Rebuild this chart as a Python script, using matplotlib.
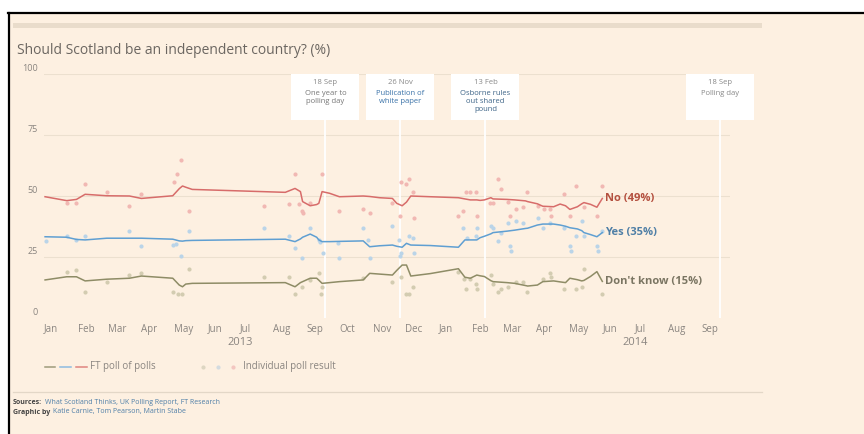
import numpy as np
import pandas as pd
import matplotlib.pyplot as plt
import matplotlib.dates as mdates
from matplotlib.patches import Rectangle
from matplotlib.lines import Line2D

plt.rcParams['font.family'] = ['Open Sans', 'DejaVu Sans']

# FT poll of polls (smoothed series)
pop_dates = ['2013-01-02', '2013-01-22', '2013-01-31', '2013-02-08', '2013-02-28',
             '2013-03-21', '2013-04-01', '2013-04-30', '2013-05-06', '2013-05-09',
             '2013-05-12', '2013-05-18', '2013-08-12', '2013-08-21', '2013-08-26',
             '2013-08-28', '2013-09-04', '2013-09-10', '2013-09-12', '2013-09-15',
             '2013-09-22', '2013-10-01', '2013-10-23', '2013-10-29', '2013-11-07',
             '2013-11-19', '2013-11-23', '2013-11-28', '2013-12-02', '2013-12-06',
             '2013-12-24', '2014-01-19', '2014-01-25', '2014-01-30', '2014-02-05',
             '2014-02-08', '2014-02-12', '2014-02-18', '2014-02-20', '2014-03-05',
             '2014-03-12', '2014-03-22', '2014-03-24', '2014-04-02', '2014-04-07',
             '2014-04-17', '2014-04-23', '2014-04-28', '2014-05-02', '2014-05-09',
             '2014-05-13', '2014-05-15', '2014-05-21', '2014-05-27', '2014-06-01']
no_pop = [49.7, 48.1, 48.6, 50.7, 50.1, 50.0, 49.0, 50.1, 53.0, 54.1,
          53.6, 52.7, 51.5, 53.1, 51.8, 47.7, 46.0, 46.5, 47.0, 51.8,
          51.1, 49.7, 50.0, 49.8, 49.3, 49.0, 47.0, 46.0, 47.5, 50.0,
          49.7, 49.3, 48.8, 48.4, 48.4, 48.2, 48.4, 49.3, 48.8, 48.6,
          48.4, 48.0, 47.7, 46.8, 45.8, 45.6, 46.7, 46.0, 44.5, 45.6,
          46.8, 47.3, 46.6, 45.4, 49.0]
yes_pop = [33.3, 33.1, 32.2, 32.0, 32.7, 32.7, 32.7, 32.3, 31.6, 31.5,
           31.7, 31.8, 32.3, 31.3, 32.4, 33.1, 34.4, 33.1, 32.0, 31.3,
           31.3, 31.4, 31.6, 29.2, 29.6, 29.9, 29.4, 29.0, 30.6, 29.9,
           29.7, 29.0, 32.0, 32.0, 32.0, 32.9, 33.5, 34.5, 35.0, 35.6,
           36.0, 36.7, 36.8, 38.1, 38.5, 38.5, 38.1, 37.6, 37.0, 36.5,
           35.8, 35.0, 34.2, 33.3, 35.0]
dk_pop = [15.6, 16.9, 16.9, 15.2, 15.9, 16.3, 17.2, 16.3, 13.5, 12.8,
          13.9, 14.2, 14.5, 12.8, 14.5, 14.9, 16.3, 16.3, 15.5, 14.2,
          14.5, 14.9, 15.6, 18.3, 18.0, 17.6, 19.5, 21.7, 21.7, 17.2,
          18.2, 20.2, 16.7, 16.3, 17.6, 17.3, 17.0, 15.3, 14.9, 14.5,
          14.2, 13.3, 13.1, 13.5, 14.9, 15.2, 14.8, 14.5, 16.3, 15.7,
          15.2, 15.4, 17.0, 19.0, 15.0]

# individual poll results
no_poll_dates = ['2013-01-22', '2013-01-31', '2013-02-08', '2013-02-28', '2013-03-21',
                 '2013-04-01', '2013-05-01', '2013-05-04', '2013-05-08', '2013-05-15',
                 '2013-07-23', '2013-08-15', '2013-08-21', '2013-08-25', '2013-08-27',
                 '2013-08-28', '2013-09-04', '2013-09-15', '2013-10-01', '2013-10-23',
                 '2013-10-29', '2013-11-19', '2013-11-26', '2013-11-27', '2013-12-02',
                 '2013-12-04', '2013-12-08', '2013-12-09', '2014-01-19', '2014-01-23',
                 '2014-01-26', '2014-01-30', '2014-02-04', '2014-02-05', '2014-02-17',
                 '2014-02-20', '2014-02-25', '2014-02-27', '2014-03-06', '2014-03-08',
                 '2014-03-13', '2014-03-20', '2014-03-23', '2014-04-03', '2014-04-08',
                 '2014-04-14', '2014-04-15', '2014-04-27', '2014-05-02', '2014-05-08',
                 '2014-05-15', '2014-05-27', '2014-06-01']
no_polls = [47.0, 47.0, 54.9, 51.8, 45.9, 50.8, 55.9, 58.9, 64.8, 43.8,
            45.8, 46.7, 58.9, 46.7, 44.0, 42.9, 47.0, 58.9, 43.9, 44.7,
            42.9, 47.0, 41.8, 55.9, 54.8, 56.8, 51.8, 40.9, 41.8, 43.7,
            51.8, 51.8, 51.8, 41.8, 47.0, 47.0, 56.8, 52.7, 47.7, 41.8,
            44.5, 45.6, 51.8, 45.9, 44.5, 44.5, 41.8, 50.8, 41.8, 54.1,
            45.6, 41.8, 54.1]

yes_poll_dates = ['2013-01-03', '2013-01-22', '2013-01-31', '2013-02-08', '2013-03-21',
                  '2013-04-01', '2013-04-30', '2013-05-03', '2013-05-08', '2013-05-15',
                  '2013-07-23', '2013-08-15', '2013-08-21', '2013-08-27', '2013-09-04',
                  '2013-09-12', '2013-09-13', '2013-09-16', '2013-09-30', '2013-10-01',
                  '2013-10-23', '2013-10-27', '2013-10-29', '2013-11-19', '2013-11-25',
                  '2013-11-26', '2013-11-27', '2013-12-04', '2013-12-08', '2013-12-09',
                  '2014-01-23', '2014-01-27', '2014-02-04', '2014-02-05', '2014-02-18',
                  '2014-02-20', '2014-02-25', '2014-02-27', '2014-03-06', '2014-03-08',
                  '2014-03-09', '2014-03-13', '2014-03-20', '2014-04-03', '2014-04-07',
                  '2014-04-14', '2014-04-27', '2014-05-02', '2014-05-03', '2014-05-08',
                  '2014-05-13', '2014-05-15', '2014-05-27', '2014-05-28', '2014-06-01']
yes_polls = [31.7, 33.7, 32.0, 33.7, 35.8, 29.6, 29.8, 30.3, 25.5, 35.8,
             36.8, 33.7, 28.8, 24.7, 36.8, 32.0, 31.3, 26.8, 30.9, 24.7,
             36.8, 32.0, 24.7, 37.7, 32.0, 25.4, 26.5, 33.6, 32.7, 26.8,
             36.8, 32.7, 33.6, 36.8, 37.7, 36.8, 31.7, 34.7, 39.1, 29.5,
             27.6, 39.9, 38.8, 40.9, 36.8, 39.1, 36.8, 29.5, 27.6, 33.6,
             39.9, 33.6, 29.5, 27.6, 35.7]

dk_poll_dates = ['2013-01-22', '2013-01-31', '2013-02-08', '2013-02-28', '2013-03-21',
                 '2013-04-01', '2013-04-30', '2013-05-05', '2013-05-09', '2013-05-15',
                 '2013-07-23', '2013-08-15', '2013-08-21', '2013-08-27', '2013-09-04',
                 '2013-09-12', '2013-09-14', '2013-09-15', '2013-10-23', '2013-11-19',
                 '2013-11-27', '2013-12-02', '2013-12-04', '2013-12-08', '2014-01-19',
                 '2014-01-24', '2014-01-26', '2014-01-30', '2014-02-04', '2014-02-05',
                 '2014-02-18', '2014-02-20', '2014-02-25', '2014-02-27', '2014-03-06',
                 '2014-03-13', '2014-03-20', '2014-03-23', '2014-04-07', '2014-04-14',
                 '2014-04-15', '2014-04-27', '2014-05-08', '2014-05-13', '2014-05-15',
                 '2014-06-01']
dk_polls = [18.7, 19.7, 10.5, 14.6, 17.6, 18.6, 10.8, 9.7, 9.7, 20.0,
            16.7, 16.7, 9.7, 12.8, 15.6, 18.6, 9.7, 12.8, 16.5, 14.6,
            16.7, 9.7, 9.7, 12.8, 19.0, 15.9, 11.8, 15.9, 13.8, 11.8,
            17.6, 13.8, 10.8, 11.8, 12.6, 14.9, 14.9, 10.8, 15.9, 18.6,
            16.9, 11.8, 11.8, 12.6, 20.0, 9.7]

# key dates shown as callouts
event_dates = ['2013-09-18', '2013-11-26', '2014-02-13', '2014-09-18']
event_labels = ['18 Sep', '26 Nov', '13 Feb', '18 Sep']
event_texts = [['One year to', 'polling day'],
               ['Publication of', 'white paper'],
               ['Osborne rules', 'out shared', 'pound'],
               ['Polling day']]
event_colors = ['#777777', '#3a72a8', '#3d6487', '#888888']

tick_mark_months = ['2013-02-01', '2013-04-01', '2013-05-01', '2013-06-01', '2013-07-01',
                    '2013-09-01', '2013-11-01', '2013-12-01', '2014-02-01', '2014-04-01',
                    '2014-06-01', '2014-07-01', '2014-09-01']

BG = '#fdf0e1'
W, H = 864, 434


def fx(px):
    return px / W


def fy(py):
    return 1 - py / H


fig = plt.figure(figsize=(W / 100, H / 100), dpi=100)
fig.patch.set_facecolor(BG)
ax = fig.add_axes([fx(44), fy(318), 686 / W, 244 / H])
ax.set_facecolor(BG)
for s in ax.spines.values():
    s.set_visible(False)

ax.set_xlim(mdates.date2num(pd.Timestamp('2013-01-01')),
            mdates.date2num(pd.Timestamp('2014-09-27')))
ax.set_ylim(0, 100)

for v in [25, 50, 75, 100]:
    ax.axhline(v, color='#ece0cf', lw=0.8, zorder=0)

ax.set_yticks([])
for v in [0, 25, 50, 75, 100]:
    ax.annotate(str(v), xy=(0, v), xycoords=('axes fraction', 'data'),
                xytext=(-4.3, 4.2), textcoords='offset points',
                ha='right', va='center', fontsize=6.5, color='#8a8580')

months = pd.date_range('2013-01-01', '2014-09-01', freq='MS')
ax.set_xticks(months)
ax.set_xticklabels([m.strftime('%b') for m in months], ha='left')
ax.tick_params(axis='x', which='major', length=0, pad=4, labelsize=7, labelcolor='#8a8580')
ax.set_xticks(pd.to_datetime(tick_mark_months), minor=True)
ax.tick_params(axis='x', which='minor', length=3, width=0.8, direction='in', color='#8a8580')

for yr in ['2013-07-01', '2014-07-01']:
    ax.annotate(yr[:4], xy=(pd.Timestamp(yr), 0), xycoords=('data', 'axes fraction'),
                xytext=(0, -17.5), textcoords='offset points',
                ha='center', va='center', fontsize=8, color='#8a8580')

# event markers
ev = pd.to_datetime(event_dates)
ax.vlines(ev, 0, 81, color='white', lw=1.3, zorder=1)

# individual polls
ax.scatter(pd.to_datetime(no_poll_dates), no_polls, s=9, color='#f1b8b3', lw=0, zorder=2)
ax.scatter(pd.to_datetime(yes_poll_dates), yes_polls, s=9, color='#bad4e8', lw=0, zorder=2)
ax.scatter(pd.to_datetime(dk_poll_dates), dk_polls, s=9, color='#d3ccb1', lw=0, zorder=2)

# poll of polls
pd_dates = pd.to_datetime(pop_dates)
ax.plot(pd_dates, no_pop, color='#d76c6a', lw=1.1, zorder=3)
ax.plot(pd_dates, yes_pop, color='#5f9fd2', lw=1.1, zorder=3)
ax.plot(pd_dates, dk_pop, color='#8e8c66', lw=1.1, zorder=3)

end_labels = [('No (49%)', no_pop[-1], '#b4503f'),
              ('Yes (35%)', yes_pop[-1], '#4f7fa6'),
              ("Don't know (15%)", dk_pop[-1], '#7a7562')]
for txt, v, c in end_labels:
    ax.annotate(txt, xy=(pd_dates[-1], v), xytext=(2.2, 0), textcoords='offset points',
                ha='left', va='center', fontsize=8, fontweight='bold', color=c)

# callout boxes above the event lines
inv = fig.transFigure.inverted()
for d, lab, lines, col in zip(ev, event_labels, event_texts, event_colors):
    xc = inv.transform(ax.transData.transform((mdates.date2num(d), 0)))[0]
    fig.add_artist(Rectangle((xc - fx(34), fy(120)), fx(68), 46 / H,
                             transform=fig.transFigure, facecolor='white',
                             edgecolor='none', zorder=2))
    fig.text(xc, fy(82), lab, ha='center', va='center', fontsize=5.5,
             color='#888888', zorder=3)
    for i, line in enumerate(lines):
        fig.text(xc, fy(93.5 + 8 * i), line, ha='center', va='center',
                 fontsize=5.5, color=col, zorder=3)

# frame, header band and title
fig.add_artist(Rectangle((0, fy(12)), 1, 12 / H, transform=fig.transFigure,
                         facecolor='white', edgecolor='none'))
fig.add_artist(Rectangle((0, 0), fx(8), 1, transform=fig.transFigure,
                         facecolor='white', edgecolor='none'))
fig.add_artist(Line2D([fx(8), 1], [fy(13), fy(13)], transform=fig.transFigure,
                      color='black', lw=1.6))
fig.add_artist(Line2D([fx(9), fx(9)], [0, fy(13)], transform=fig.transFigure,
                      color='black', lw=1.6))
fig.add_artist(Rectangle((fx(13), fy(27.5)), fx(749), 4.5 / H, transform=fig.transFigure,
                         facecolor='#e9dccb', edgecolor='none'))
fig.text(fx(17), fy(50), 'Should Scotland be an independent country? (%)',
         ha='left', va='center', fontsize=10, color='#6b6661')

# legend
leg_y = fy(367)
for (x0, x1), c in zip([(45, 55), (60, 71), (76, 87)], ['#9d9b7a', '#8dbbe0', '#e0847f']):
    fig.add_artist(Line2D([fx(x0), fx(x1)], [leg_y, leg_y], transform=fig.transFigure,
                          color=c, lw=1.1))
fig.text(fx(90), leg_y, 'FT poll of polls', ha='left', va='center', fontsize=7, color='#8a8580')
for x, c in zip([203, 218, 233], ['#ddd6c2', '#d3dbe0', '#f3c6c0']):
    fig.add_artist(Line2D([fx(x)], [leg_y], transform=fig.transFigure, marker='o',
                          markersize=2.0, color=c, lw=0))
fig.text(fx(243), leg_y, 'Individual poll result', ha='left', va='center',
         fontsize=7, color='#8a8580')

fig.add_artist(Line2D([fx(13), fx(762)], [fy(392), fy(392)], transform=fig.transFigure,
                      color='#e3d7c7', lw=0.9))

# credits
renderer = fig.canvas.get_renderer()
for y, head, body in [(403, 'Sources:', 'What Scotland Thinks, UK Polling Report, FT Research'),
                      (412, 'Graphic by', 'Katie Carnie, Tom Pearson, Martin Stabe')]:
    t = fig.text(fx(13), fy(y), head, ha='left', va='center', fontsize=5,
                 fontweight='bold', color='#444444')
    bb = t.get_window_extent(renderer)
    fig.text(fx(bb.x1 + 2.5), fy(y), body, ha='left', va='center', fontsize=5,
             color='#4f7fa8')

fig.savefig('out.png', dpi=100, facecolor=BG)
